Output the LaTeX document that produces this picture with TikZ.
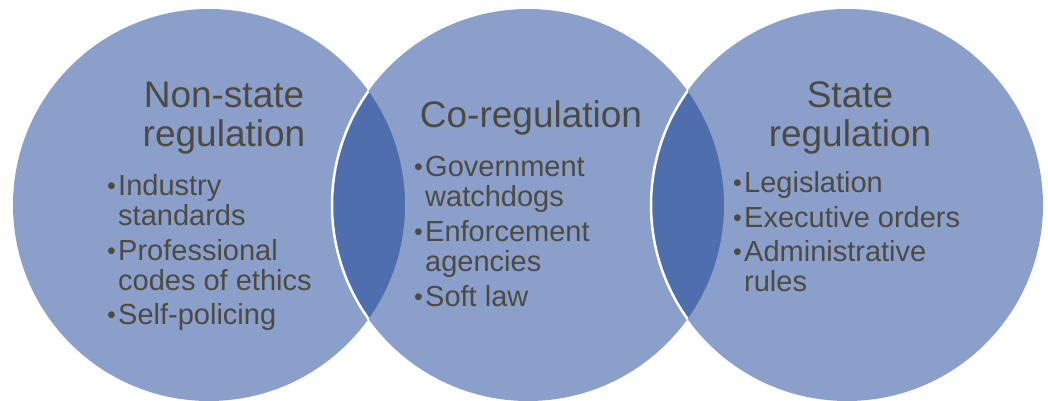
\documentclass[tikz,border=0pt]{standalone}
\usepackage{fontspec}
\setmainfont{Liberation Sans}
\definecolor{circfill}{HTML}{8AA0CB}
\definecolor{lensfill}{HTML}{4F6EAD}
\definecolor{txt}{HTML}{4D4A42}
\newcommand{\bul}{\makebox[11pt][l]{\fontsize{25}{30}\selectfont\raisebox{1pt}{•}}}
\begin{document}
\begin{tikzpicture}[x=1pt,y=-1pt,
  circ/.style={circle, fill=circfill, minimum size=392pt, inner sep=0pt},
  title/.style={text=txt, font=\fontsize{37}{39}\selectfont, anchor=base, inner sep=0pt},
  items/.style={text=txt, font=\fontsize{29}{30}\selectfont, anchor=base west, inner sep=0pt},
  rim/.style={white, line width=2.5pt}]
\useasboundingbox (0,0) rectangle (1048,401);
\node[circ] (c1) at (209,205) {};
\node[circ] (c2) at (528,205) {};
\node[circ] (c3) at (847,205) {};
\begin{scope}
  \clip (c1.center) circle (196pt);
  \fill[lensfill] (c2.center) circle (196pt);
  \draw[rim] (c2.center) circle (196pt);
\end{scope}
\begin{scope}
  \clip (c2.center) circle (196pt);
  \fill[lensfill] (c3.center) circle (196pt);
  \draw[rim] (c3.center) circle (196pt);
\end{scope}
\node[title] (t1) at (224,108) {\begin{tabular}[t]{@{}c@{}}Non-state\\regulation\end{tabular}};
\node[title] (t2) at (531,128) {Co-regulation};
\node[title] (t3) at (850,107) {\begin{tabular}[t]{@{}c@{}}State\\regulation\end{tabular}};
\node[items] (l1) at (107,195) {\begin{tabular}[t]{@{}l@{}l@{}}\bul&Industry\\&standards\\[5pt]\bul&Professional\\&codes of ethics\\[4pt]\bul&Self-policing\end{tabular}};
\node[items] (l2) at (414,176) {\begin{tabular}[t]{@{}l@{}l@{}}\bul&Government\\&watchdogs\\[5pt]\bul&Enforcement\\&agencies\\[5pt]\bul&Soft law\end{tabular}};
\node[items] (l3) at (733,192) {\begin{tabular}[t]{@{}l@{}l@{}}\bul&Legislation\\[5pt]\bul&Executive orders\\[4pt]\bul&Administrative\\&rules\end{tabular}};
\end{tikzpicture}
\end{document}
